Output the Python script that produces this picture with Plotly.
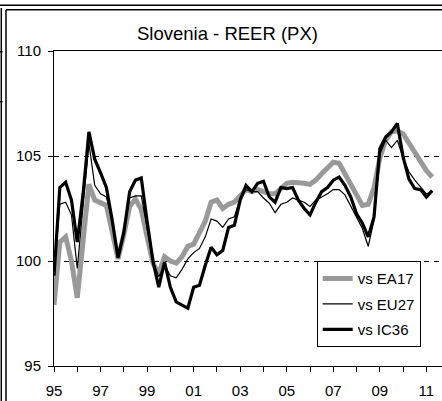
import pandas as pd
import plotly.graph_objects as go

# Quarterly periods 1995Q1 .. 2011Q2
quarters = pd.period_range("1995Q1", "2011Q2", freq="Q")
x_vals = [p.year + (p.quarter - 1) / 4 for p in quarters]

ea17 = [97.9, 100.9, 101.15, 100.0, 98.25, 100.8, 103.65, 102.9, 102.75, 102.65,
        101.4, 100.1, 101.25, 102.6, 102.95, 102.45, 101.15, 99.9, 99.4, 100.2,
        100.0, 99.9, 100.2, 100.7, 100.8, 101.35, 101.9, 102.8, 102.9, 102.5,
        102.7, 102.8, 103.1, 103.4, 103.3, 103.4, 103.3, 103.2, 103.2, 103.45,
        103.7, 103.75, 103.75, 103.7, 103.65, 103.85, 104.15, 104.45, 104.7, 104.65,
        104.15, 103.6, 103.05, 102.65, 102.7, 103.5, 104.9, 105.75, 106.15, 106.2,
        106.05, 105.6, 105.1, 104.7, 104.3, 104.0]

eu27 = [99.4, 102.7, 102.8, 102.2, 99.65, 102.6, 105.6, 103.6, 103.2, 103.05,
        101.9, 100.2, 101.4, 103.0, 103.1, 103.1, 101.6, 100.0, 99.25, 99.8,
        99.3, 99.2, 99.6, 100.1, 100.4, 100.6, 101.15, 102.0, 101.9, 101.6,
        102.0, 102.1, 103.0, 103.4, 103.3, 103.3, 103.0, 102.75, 102.3, 102.7,
        102.8, 103.0, 102.9, 102.8, 102.6, 102.9, 103.05, 103.2, 103.4, 103.4,
        103.15, 102.6, 102.1, 101.55, 100.7, 101.95, 105.1, 105.75, 105.4, 105.75,
        104.9, 104.25, 103.85, 103.5, 103.2, 103.3]

ic36 = [99.3, 103.5, 103.75, 102.9, 100.9, 103.2, 106.15, 104.85, 104.2, 103.5,
        101.95, 100.15, 101.35, 103.3, 103.85, 103.95, 101.9, 100.0, 98.75, 99.95,
        98.75, 98.05, 97.9, 97.75, 98.75, 98.85, 99.8, 100.65, 100.3, 100.5,
        101.6, 101.7, 102.9, 103.6, 103.3, 103.7, 103.8, 103.05, 102.8, 103.5,
        103.45, 103.5, 102.9, 102.5, 102.2, 102.8, 103.3, 103.5, 103.85, 104.0,
        103.6, 103.05, 102.25, 101.8, 101.15, 102.1, 105.35, 105.9, 106.15, 106.55,
        104.95, 103.9, 103.45, 103.4, 103.05, 103.35]

series_names = ["vs EA17", "vs EU27", "vs IC36"]
tick_years = [1995, 1997, 1999, 2001, 2003, 2005, 2007, 2009, 2011]
tick_labels = ["95", "97", "99", "01", "03", "05", "07", "09", "11"]
y_ticks = [95, 100, 105, 110]

FONT = "Liberation Sans, Arial, sans-serif"
W, H = 442, 401
ML, MR, MT, MB = 54, 0, 51, 35
PW, PH = W - ML - MR, H - MT - MB

fig = go.Figure()
styles = [dict(color="#999999", width=5), dict(color="#000000", width=1.2),
          dict(color="#000000", width=3.2)]
for i, (name, vals, st) in enumerate(zip(series_names, [ea17, eu27, ic36], styles)):
    fig.add_trace(go.Scatter(x=x_vals, y=vals, mode="lines", name=name, line=st,
                             legendgroup=f"g{i}"))


def px_x(p):
    return (p - ML) / PW


def px_y(p):
    return (H - MB - p) / PH


frame = dict(type="line", xref="paper", yref="paper", line=dict(color="#000", width=1.5))
shapes = [
    dict(frame, x0=px_x(0), x1=px_x(W), y0=px_y(5.3), y1=px_y(5.3)),
    dict(frame, x0=px_x(6), x1=px_x(W), y0=px_y(9.7), y1=px_y(9.7)),
    dict(frame, x0=px_x(1.3), x1=px_x(1.3), y0=px_y(8), y1=px_y(H)),
    dict(frame, x0=px_x(6), x1=px_x(6), y0=px_y(9.7), y1=px_y(H)),
    dict(frame, x0=px_x(0), x1=px_x(2.5), y0=px_y(51.7), y1=px_y(51.7)),
    dict(frame, x0=px_x(0), x1=px_x(2.5), y0=px_y(101.7), y1=px_y(101.7)),
]

x_end = 1995 + PW / 23.275

fig.update_layout(
    width=W, height=H,
    margin=dict(l=ML, r=MR, t=MT, b=MB, pad=0),
    paper_bgcolor="white", plot_bgcolor="white",
    font=dict(family=FONT, size=15, color="#000"),
    title=dict(text="Slovenia - REER (PX)", x=227.5 / W, xanchor="center",
               y=1 - 34 / H, yanchor="middle", yref="container",
               font=dict(family=FONT, size=18.5, color="#000")),
    showlegend=True,
    legend=dict(x=px_x(316.7), y=px_y(304.2), xanchor="left", yanchor="middle",
                bgcolor="white", bordercolor="#000", borderwidth=1,
                font=dict(family=FONT, size=15, color="#000"),
                tracegroupgap=3, itemwidth=30),
    shapes=shapes,
    xaxis=dict(range=[1995, x_end], tickmode="array", tickvals=tick_years,
               ticktext=tick_labels, ticks="outside", ticklen=5, tickwidth=1,
               tickcolor="#000", showline=True, linecolor="#000", linewidth=1.3,
               mirror=True, showgrid=False, zeroline=False, ticklabelstandoff=6,
               minor=dict(tickmode="linear", tick0=1995, dtick=1, ticks="outside",
                          ticklen=5, tickwidth=1, tickcolor="#000", showgrid=False)),
    yaxis=dict(range=[95, 110], tickmode="array", tickvals=y_ticks,
               ticks="outside", ticklen=5, tickwidth=1, tickcolor="#000",
               showline=True, linecolor="#000", linewidth=1, zeroline=False,
               showgrid=True, gridcolor="#000", gridwidth=1, griddash="5px,5px",
               ticklabelstandoff=4),
)

fig.write_html("out.html", config={"displayModeBar": False},
               post_script="document.body.style.margin='0';document.body.style.overflow='hidden';")
